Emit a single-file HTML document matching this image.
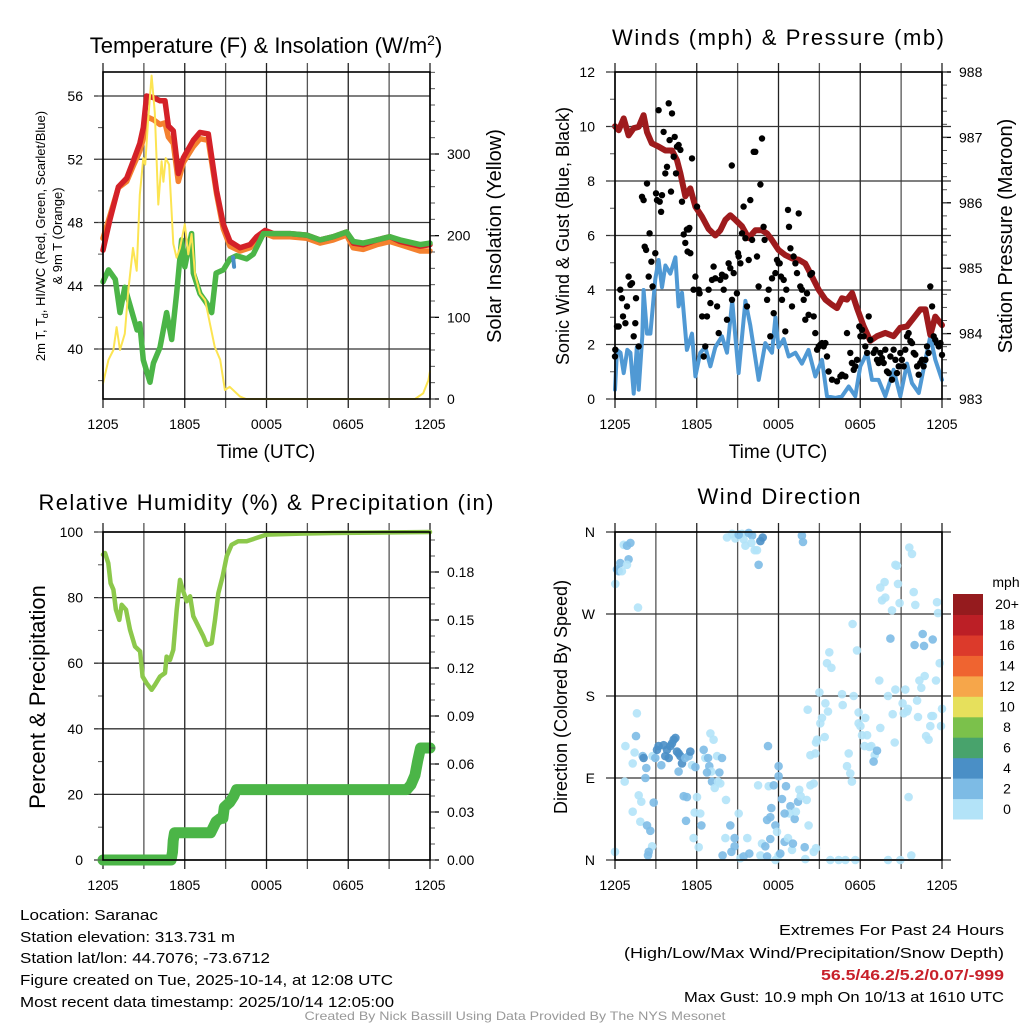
<!DOCTYPE html>
<html><head><meta charset="utf-8"><style>
html,body{margin:0;padding:0;background:#fff;}
svg{display:block;font-family:"Liberation Sans",Arial,sans-serif;}
</style></head><body>
<svg id="chart" width="1024" height="1024" viewBox="0 0 1024 1024" xmlns="http://www.w3.org/2000/svg">
<rect width="1024" height="1024" fill="#fff"/>
<g id="grids"></g>
<g id="series"></g>
<g id="axes"></g>
<g id="labels" fill="#000">
<text x="266" y="53" font-size="22" text-anchor="middle">Temperature (F) &amp; Insolation (W/m<tspan font-size="14" dy="-8">2</tspan><tspan dy="8">)</tspan></text>
<text x="778" y="45" font-size="22" text-anchor="middle" textLength="332">Winds (mph) &amp; Pressure (mb)</text>
<text x="266" y="510" font-size="22" text-anchor="middle" textLength="455">Relative Humidity (%) &amp; Precipitation (in)</text>
<text x="779" y="504" font-size="22" text-anchor="middle" textLength="163">Wind Direction</text>
<text x="266" y="458" font-size="19" text-anchor="middle">Time (UTC)</text>
<text x="778" y="458" font-size="19" text-anchor="middle">Time (UTC)</text>
<text transform="translate(45,236) rotate(-90)" font-size="13" text-anchor="middle">2m T, T<tspan font-size="9" dy="3">d</tspan><tspan dy="-3">, HI/WC (Red, Green, Scarlet/Blue)</tspan></text>
<text transform="translate(62,236) rotate(-90)" font-size="13" text-anchor="middle">&amp; 9m T (Orange)</text>
<text transform="translate(501,236) rotate(-90)" font-size="20" text-anchor="middle">Solar Insolation (Yellow)</text>
<text transform="translate(569,236) rotate(-90)" font-size="18" text-anchor="middle">Sonic Wind &amp; Gust (Blue, Black)</text>
<text transform="translate(1012,236) rotate(-90)" font-size="20" text-anchor="middle">Station Pressure (Maroon)</text>
<text transform="translate(45,697) rotate(-90)" font-size="22" text-anchor="middle">Percent &amp; Precipitation</text>
<text transform="translate(567,697) rotate(-90)" font-size="18" text-anchor="middle">Direction (Colored By Speed)</text>
<text x="1006" y="587" font-size="14" text-anchor="middle">mph</text>
<text x="20" y="920" font-size="15" textLength="138" lengthAdjust="spacingAndGlyphs">Location: Saranac</text>
<text x="20" y="942" font-size="15" textLength="215" lengthAdjust="spacingAndGlyphs">Station elevation: 313.731 m</text>
<text x="20" y="963" font-size="15" textLength="250" lengthAdjust="spacingAndGlyphs">Station lat/lon: 44.7076; -73.6712</text>
<text x="20" y="985" font-size="15" textLength="373" lengthAdjust="spacingAndGlyphs">Figure created on Tue, 2025-10-14, at 12:08 UTC</text>
<text x="20" y="1007" font-size="15" textLength="374" lengthAdjust="spacingAndGlyphs">Most recent data timestamp: 2025/10/14 12:05:00</text>
<text x="1004" y="935" font-size="15" text-anchor="end" textLength="225" lengthAdjust="spacingAndGlyphs">Extremes For Past 24 Hours</text>
<text x="1004" y="958" font-size="15" text-anchor="end" textLength="380" lengthAdjust="spacingAndGlyphs">(High/Low/Max Wind/Precipitation/Snow Depth)</text>
<text x="1004" y="980" font-size="15" font-weight="bold" fill="#c8202a" text-anchor="end" textLength="183" lengthAdjust="spacingAndGlyphs">56.5/46.2/5.2/0.07/-999</text>
<text x="1004" y="1002" font-size="15" text-anchor="end" textLength="320" lengthAdjust="spacingAndGlyphs">Max Gust: 10.9 mph On 10/13 at 1610 UTC</text>
<text x="515" y="1020" font-size="12" fill="#999" text-anchor="middle" textLength="421" lengthAdjust="spacingAndGlyphs">Created By Nick Bassill Using Data Provided By The NYS Mesonet</text>
</g>
</svg>
<script>
// ---- data ----
const timeTickHours = [0, 6, 12, 18, 24];
const timeTickLabels = ["1205", "1805", "0005", "0605", "1205"];
const tempTicks = [40, 44, 48, 52, 56];
const solarTicks = [0, 100, 200, 300];
const windTicks = [0, 2, 4, 6, 8, 10, 12];
const pressureTicks = [983, 984, 985, 986, 987, 988];
const rhTicks = [0, 20, 40, 60, 80, 100];
const precipTicks = [0, 0.03, 0.06, 0.09, 0.12, 0.15, 0.18];
const precipTickLabels = ["0.00", "0.03", "0.06", "0.09", "0.12", "0.15", "0.18"];
const dirTicks = [0, 90, 180, 270, 360];
const dirTickLabels = ["N", "E", "S", "W", "N"];
const speedBins = ["0", "2", "4", "6", "8", "10", "12", "14", "16", "18", "20+"];
const speedColors = ["#b3e3f8", "#7dbbe5", "#4a8fc6", "#48a36c", "#7bc14b", "#e6e05c", "#f6a64a", "#ef6430", "#dc3a2b", "#bc1f26", "#951b1e"];

const redHours = [0,0.5,1.13,1.74,2.23,2.7,2.96,3.2,3.7,4.18,4.55,4.8,5.16,5.53,5.9,6.63,7.12,7.73,8.34,8.83,9.32,10.06,10.79,11.28,11.9,12.5,13.72,14.95,15.93,16.9,17.88,18.37,19.1,20.1,21.06,21.8,23.27,24];
const redTemps = [46.25,48.15,50.25,50.8,51.9,53.0,54.0,56.0,55.9,55.7,55.7,54.1,53.8,51.1,52.1,53.2,53.7,53.6,50.0,47.9,46.8,46.4,46.6,47.1,47.5,47.3,47.3,47.2,46.9,47.1,47.4,46.7,46.6,46.9,47.1,46.8,46.5,46.6];
const orangeHours = [0,0.5,1.13,1.74,2.23,2.7,2.96,3.2,3.7,4.18,4.55,4.8,5.16,5.53,5.9,6.63,7.12,7.73,8.34,8.83,9.32,10.06,10.79,11.28,11.9,12.5,13.72,14.95,15.93,16.9,17.88,18.37,19.1,20.1,21.06,21.8,23.27,24];
const orangeTemps = [47.0,48.4,50.2,50.6,51.6,52.5,53.3,54.7,54.5,54.2,54.3,53.4,53.0,50.6,51.8,52.8,53.3,53.2,49.8,47.6,46.5,46.2,46.4,46.9,47.3,47.1,47.1,47.0,46.7,46.9,47.2,46.4,46.3,46.6,46.8,46.6,46.2,46.2];
const greenHours = [0,0.4,0.9,1.25,1.6,2.0,2.5,2.7,2.96,3.45,3.7,4.18,4.67,5.04,5.4,5.77,6.0,6.5,6.63,7.12,7.6,7.98,8.3,8.83,9.32,9.8,10.55,11.03,11.77,12.5,13.72,14.95,15.93,16.9,17.88,18.37,19.1,20.1,21.06,21.8,23.27,24];
const greenTemps = [44.25,45.0,44.4,42.3,43.9,42.7,41.2,41.6,39.3,37.9,39.1,40.1,42.3,40.6,43.5,46.9,45.2,47.3,44.8,43.5,42.9,42.3,44.8,45.0,45.7,45.9,45.7,46.0,47.3,47.3,47.3,47.2,46.9,47.1,47.4,46.8,46.7,46.9,47.1,46.9,46.6,46.7];
const blueHours = [9.55,9.62];
const blueTemps = [45.8,45.2];
const solarHours = [0,0.4,0.76,1.0,1.25,1.6,1.86,2.2,2.47,2.7,2.96,3.1,3.3,3.57,3.8,4.06,4.3,4.43,4.6,4.85,5.16,5.4,5.65,6.0,6.26,6.5,6.75,7.12,7.5,7.85,8.2,8.6,8.95,9.3,10.06,10.5,22.9,23.5,23.88,24];
const solarWatts = [19,48,60,88,60,80,133,185,157,250,295,287,339,396,351,238,291,266,295,287,190,173,185,214,177,202,153,129,121,92,64,48,11,15,3,0,0,7,23,34];

const pressureHours = [0,0.27,0.64,1.0,1.37,1.74,2.1,2.35,2.7,3.2,3.7,4.18,4.55,4.8,5.16,5.53,5.9,6.38,6.87,7.36,7.73,8.1,8.46,8.83,9.32,9.8,10.3,10.79,11.16,11.52,12.0,12.5,13.0,13.48,13.97,14.34,14.95,15.44,15.93,16.29,16.66,17.03,17.4,17.76,18.25,18.74,19.23,19.84,20.45,20.94,21.43,21.92,22.41,22.78,23.14,23.51,24];
const pressureMb = [987.17,987.11,987.29,987.03,987.14,987.16,987.34,987.08,986.91,986.86,986.8,986.8,986.65,986.45,986.1,986.22,985.94,985.79,985.6,985.5,985.58,985.74,985.81,985.74,985.64,985.46,985.58,985.58,985.53,985.43,985.28,985.2,985.15,985.13,985.07,984.92,984.67,984.52,984.44,984.39,984.54,984.52,984.62,984.39,984.11,983.89,983.96,984.01,983.96,984.09,984.11,984.24,984.37,984.37,983.98,984.26,984.13];
const windHours = [0,0.15,0.4,0.64,0.9,1.13,1.37,1.6,1.74,2.0,2.1,2.35,2.6,2.96,3.2,3.45,3.7,4.06,4.43,4.67,4.92,5.28,5.65,5.9,6.26,6.63,7.0,7.36,7.85,8.22,8.6,9.07,9.57,9.93,10.55,11.03,11.52,11.77,12.0,12.38,12.75,13.24,13.72,14.2,14.7,15.19,15.56,16.17,16.66,17.15,17.64,18.0,18.5,18.86,19.35,19.84,20.45,20.94,21.43,21.8,22.3,22.78,23.14,23.51,24];
const windMph = [0.34,1.8,1.7,0.95,1.8,1.7,0.2,1.9,0.34,2.3,4.0,2.4,2.4,4.4,5.1,4.1,4.9,4.6,5.2,3.4,3.9,1.8,2.4,0.83,1.7,1.9,1.2,1.9,2.3,1.7,3.6,0.95,3.6,2.7,0.7,2.05,1.7,3.0,1.9,2.2,1.56,1.7,1.3,1.8,0.83,1.44,0.1,0.04,0.1,0.46,0.1,1.2,1.7,0.7,0.7,0.1,1.07,0.1,1.3,0.58,0.22,1.44,2.3,1.44,0.7];
const gustHours = [0,0.02,0.15,0.27,0.39,0.51,0.59,0.76,0.88,1.0,1.13,1.25,1.37,1.49,1.54,1.74,1.98,2.1,2.18,2.28,2.35,2.47,2.54,2.67,2.76,2.96,3.01,3.08,3.2,3.28,3.38,3.45,3.57,3.69,3.82,3.94,4.01,4.11,4.18,4.31,4.38,4.48,4.55,4.67,4.8,4.92,5.04,5.16,5.28,5.33,5.41,5.46,5.53,5.65,5.77,5.9,6.02,6.14,6.21,6.39,6.51,6.63,6.75,6.87,7.0,7.12,7.24,7.36,7.49,7.61,7.73,7.85,7.98,8.1,8.22,8.34,8.46,8.59,8.71,8.57,8.95,9.03,9.08,9.2,9.32,9.44,9.57,9.69,9.81,9.93,10.06,10.18,10.3,10.42,10.54,10.67,10.79,10.91,10.98,11.16,11.28,11.4,11.52,11.65,11.77,11.89,12.01,12.09,12.18,12.26,12.38,12.5,12.57,12.7,12.77,12.87,12.99,13.11,13.24,13.36,13.48,13.6,13.72,13.85,13.97,14.09,14.21,14.34,14.46,14.58,14.7,14.83,14.95,15.07,15.19,15.32,15.44,15.56,15.68,15.93,16.29,16.54,16.66,16.91,17.03,17.27,17.39,17.52,17.64,17.76,17.93,18.01,18.13,18.25,18.37,18.5,18.62,18.74,18.98,19.11,19.23,19.35,19.47,19.6,19.72,19.84,19.96,20.09,20.21,20.33,20.45,20.58,20.7,20.82,20.94,21.06,21.19,21.31,21.43,21.55,21.68,21.8,21.92,22.04,22.17,22.29,22.41,22.53,22.65,22.78,22.9,23.02,23.14,23.27,23.39,23.51,23.63,23.76,23.88,24.0];
const gustMph = [1.56,1.81,2.66,2.66,4.01,3.70,3.03,2.78,3.40,4.49,4.19,4.25,2.30,2.78,3.70,1.93,7.42,7.30,5.59,5.47,7.91,4.49,6.08,5.04,4.13,5.35,7.55,7.30,10.60,7.24,6.87,7.48,9.80,8.28,8.52,10.85,9.50,7.61,10.48,8.89,9.62,8.28,9.26,9.32,9.14,7.24,6.04,5.73,6.22,5.41,6.22,6.28,5.35,8.83,4.01,4.49,7.06,4.01,3.88,3.03,1.56,1.93,3.03,4.01,3.52,4.37,4.86,4.43,3.40,2.42,4.37,4.56,4.01,4.49,2.91,4.98,4.80,3.64,4.62,8.57,3.88,5.35,5.23,4.98,6.08,7.06,5.90,3.40,5.10,7.30,5.84,9.07,9.07,5.23,4.13,7.87,9.56,6.32,5.84,3.64,4.01,2.30,4.43,3.15,4.62,5.10,4.98,4.98,4.49,3.64,4.37,2.48,4.01,6.94,6.32,5.53,3.40,5.23,4.98,4.62,6.81,4.13,4.01,3.64,2.91,3.88,3.09,4.56,4.62,3.03,2.42,1.81,1.93,1.99,2.05,1.93,2.05,1.56,1.01,0.71,0.65,0.83,0.89,0.83,2.42,1.69,1.32,1.07,1.20,1.44,2.66,2.30,2.54,2.30,1.93,1.69,3.03,2.17,1.69,1.81,1.44,1.32,1.69,1.50,1.32,1.81,1.01,0.95,1.56,0.71,1.81,1.44,0.95,1.20,1.69,1.44,1.20,1.81,2.30,2.42,2.12,2.05,1.69,1.63,1.20,0.89,1.32,1.44,1.20,1.44,1.93,1.69,4.13,3.40,2.30,2.17,2.05,1.93,2.05,1.62];

const rhHours = [0,0.15,0.39,0.56,0.76,0.95,1.2,1.37,1.69,1.98,2.35,2.72,2.91,3.2,3.57,3.82,4.18,4.55,4.67,4.92,5.16,5.41,5.65,5.85,6.14,6.39,6.63,7.0,7.36,7.61,7.98,8.22,8.46,8.78,9.08,9.44,9.93,10.55,11.28,12.0,14.46,16.9,24];
const rhPercent = [93.1,93.6,90.5,84.4,82.4,76.3,73.2,77.8,76.3,70.2,65.1,63.6,55.9,53.9,51.9,53.4,55.9,57.0,62.0,61.0,64.1,76.3,85.4,82.4,78.9,80.4,74.3,71.2,68.2,65.6,66.1,73.2,81.3,86.4,92.6,96.1,97.2,97.2,98.2,99.2,99.5,99.7,100];
const precipHours = [0,5.0,5.1,5.15,5.25,7.9,8.3,8.6,8.8,8.9,9.3,9.6,9.8,22.3,22.6,22.9,23.1,23.3,24];
const precipInches = [0,0,0.005,0.012,0.017,0.017,0.024,0.026,0.026,0.033,0.036,0.04,0.044,0.044,0.047,0.053,0.062,0.07,0.07];

const dirHours = [0.02,0.15,0.27,0.39,0.51,0.64,0.88,1.13,1.0,0.88,1.69,0,0.71,0.76,1.30,1.44,1.54,1.61,1.74,1.93,1.30,1.86,2.03,2.10,2.23,2.30,2.35,2.59,2.72,2.47,2.42,2.84,2.76,2.96,3.08,3.20,3.40,3.57,3.69,3.82,3.94,4.06,4.18,4.31,4.43,4.55,4.67,4.80,4.92,4.67,5.16,5.41,5.53,5.65,5.90,5.04,5.28,6.02,5.85,6.26,5.21,6.34,5.77,6.14,6.51,6.63,6.83,7.0,7.24,6.92,7.07,6.75,7.12,7.32,7.56,7.73,7.66,7.49,7.85,8.15,8.46,8.10,7.90,8.54,8.78,8.78,9.08,9.71,9.20,9.44,9.86,10.67,10.79,11.03,11.16,10.50,11.28,11.65,11.23,12.01,12.01,12.55,12.26,11.47,11.16,11.40,11.77,11.89,11.40,11.77,12.01,12.13,12.45,12.70,12.99,13.06,12.87,12.80,12.45,13.19,13.28,13.43,13.53,13.63,14.07,14.34,14.58,14.21,13.92,14.58,13.97,14.75,14.34,14.70,14.75,14.83,15.07,15.19,15.39,15.0,15.44,15.63,14.14,15.56,15.88,15.73,16.66,16.71,17.44,17.76,17.52,17.88,17.88,18.01,18.37,18.13,18.50,18.32,18.67,18.81,19.06,19.23,18.98,17.15,17.03,17.27,17.39,15.80,16.42,16.91,17.64,20.04,20.94,21.75,21.55,19.40,19.47,20.04,20.38,20.58,21.31,21.11,21.43,21.50,21.19,22.17,22.24,22.34,22.48,22.73,23.56,23.83,24.0,22.83,23.02,23.14,23.22,23.34,23.93,20.53,20.21,21.99,22.58,22.68,23.32,20.33,19.60,19.84,20.89,22.04,23.63,23.71,19.47,19.79,20.77,21.92,20.58,20.70,21.60,21.80,8.22,8.59,8.83,9.32,9.44,9.57,9.81,10.06,10.01,10.25,10.42,10.67,10.84,10.54,13.72,13.80,9.08];
const dirDegrees = [303,319,317,326,317,346,345,348,330,324,277,9,86,125,106,118,136,161,71,64,53,42,114,112,90,101,38,32,15,9,5,63,114,112,121,125,104,126,114,121,112,125,128,132,134,119,117,114,106,97,112,114,119,104,102,70,69,69,52,51,43,38,24,14,121,112,112,139,132,103,97,96,86,79,86,84,96,114,112,66,38,24,5,9,15,24,51,24,2,4,7,5,18,15,4,82,81,82,125,103,92,81,67,57,44,47,38,31,23,0,5,7,20,24,11,18,59,51,51,45,53,64,77,70,66,82,84,38,14,9,1,13,115,117,129,132,150,156,135,184,172,163,165,216,211,228,182,170,259,230,180,162,150,147,156,137,137,125,124,125,115,120,108,117,103,95,86,0,0,0,0,0,0,5,69,197,145,180,160,187,187,172,163,166,161,175,157,197,189,202,197,216,166,136,132,147,158,158,147,129,243,236,248,235,242,274,285,288,282,280,283,271,299,305,303,294,324,323,343,336,354,358,353,358,352,345,359,356,348,340,340,350,354,324,356,349,357];
const dirSpeed = [1,3,3,3,1,1,3,3,3,1,1,1,1,1,1,1,3,1,1,1,1,1,3,5,3,3,3,3,1,3,3,3,1,3,5,5,3,5,5,5,5,5,5,5,5,5,5,5,5,3,3,3,5,1,3,3,3,1,1,1,3,3,1,1,3,1,3,1,1,3,1,3,3,1,1,1,3,1,3,1,3,1,3,3,3,3,1,1,1,3,3,1,1,3,3,1,1,3,3,3,3,3,3,3,3,3,3,1,3,1,1,3,3,1,1,3,3,1,3,3,1,3,1,1,1,1,1,1,3,1,1,1,1,1,1,1,1,1,1,1,1,1,1,1,1,1,1,1,1,1,1,1,1,1,1,1,1,1,1,1,1,3,3,1,1,1,1,1,1,1,1,1,1,1,1,1,1,1,1,1,1,1,1,1,1,1,1,1,1,1,1,1,1,1,1,1,1,1,1,1,3,3,3,3,3,1,1,1,1,1,1,1,1,1,1,1,1,1,1,1,1,1,1,1,1,1,3,3,1,1,1,5,5,3,3,3,3,3,3,1,1,1,1];

// ---- rendering ----
const NS = "http://www.w3.org/2000/svg";
const gGrid = document.getElementById('grids');
const gSeries = document.getElementById('series');
const gAxes = document.getElementById('axes');
function lin(d0, d1, r0, r1) { return v => r0 + (v - d0) * (r1 - r0) / (d1 - d0); }
function mk(tag, attrs, parent) {
  const e = document.createElementNS(NS, tag);
  for (const k in attrs) e.setAttribute(k, attrs[k]);
  parent.appendChild(e);
  return e;
}
function line(x1, y1, x2, y2, stroke, w, parent) {
  return mk('line', { x1: x1, y1: y1, x2: x2, y2: y2, stroke: stroke, 'stroke-width': w }, parent);
}
function txt(x, y, s, size, anchor, parent) {
  const t = mk('text', { x: x, y: y, 'font-size': size, 'text-anchor': anchor }, parent);
  t.textContent = s;
  return t;
}
function pathFrom(xsArr, ysArr, xf, yf) {
  let d = '';
  for (let i = 0; i < xsArr.length; i++) d += (i ? 'L' : 'M') + xf(xsArr[i]).toFixed(1) + ' ' + yf(ysArr[i]).toFixed(1);
  return d;
}

const panels = [
  { key: 'temp', x0: 103, x1: 430, y0: 72, y1: 399 },
  { key: 'wind', x0: 615, x1: 942, y0: 72, y1: 399 },
  { key: 'rh', x0: 103, x1: 430, y0: 532, y1: 860 },
  { key: 'dir', x0: 615, x1: 942, y0: 532, y1: 860 }
];
panels.forEach(p => {
  p.x = lin(0, 24, p.x0, p.x1);
  for (let h = 0; h <= 24; h += 3) {
    const gl = line(p.x(h), p.y0 - 9, p.x(h), p.y1 + 9, h % 6 === 0 ? '#222' : '#555', 1.3, gGrid);
    
    
  }
  timeTickHours.forEach((h, i) => {
    const t = txt(p.x(h), p.y1 + 30, timeTickLabels[i], 14, 'middle', gAxes);
    
    
  });
});

function leftAxis(p, yf, ticks, labels, minorStep, lo, hi, name, extendRight) {
  ticks.forEach((v, i) => {
    const gl = line(p.x0 - 9, yf(v), extendRight ? p.x1 + 9 : p.x1, yf(v), '#333', 1.3, gGrid);
    
    
    const t = txt(p.x0 - 20, yf(v) + 5, labels ? labels[i] : String(v), 14, 'end', gAxes);
    
    
  });
  if (minorStep) for (let v = lo; v <= hi + 1e-9; v += minorStep) {
    const yy = yf(v); if (yy < p.y0 - 0.5 || yy > p.y1 + 0.5) continue;
    line(p.x0 - 5, yy, p.x0, yy, '#555', 1, gAxes);
  }
}
function rightAxis(p, yf, ticks, labels, minorStep, lo, hi, name) {
  ticks.forEach((v, i) => {
    line(p.x1, yf(v), p.x1 + 9, yf(v), '#000', 1.3, gAxes);
    const t = txt(p.x1 + 17, yf(v) + 5, labels ? labels[i] : String(v), 14, 'start', gAxes);
    
    
  });
  for (let v = lo; v <= hi + 1e-9; v += minorStep) {
    const yy = yf(v); if (yy < p.y0 - 0.5 || yy > p.y1 + 0.5) continue;
    line(p.x1, yy, p.x1 + 5, yy, '#555', 1, gAxes);
  }
}

const P1 = panels[0];
const yTemp = lin(40, 56, 349, 96);
const ySolar = lin(0, 300, 399, 154);
leftAxis(P1, yTemp, tempTicks, null, 2, 38, 57, 'temp-axis', false);
rightAxis(P1, ySolar, solarTicks, null, 20, 0, 400, 'solar-axis');
const P2 = panels[1];
const yWind = lin(0, 12, 399, 72);
const yPres = lin(983, 988, 399, 72);
leftAxis(P2, yWind, windTicks, null, 1, 0, 12, 'wind-axis', true);
rightAxis(P2, yPres, pressureTicks, null, 0.2, 983, 988, 'pressure-axis');
const P3 = panels[2];
const yRH = lin(0, 100, 860, 532);
const yPrecip = lin(0, 0.03, 860, 812);
leftAxis(P3, yRH, rhTicks, null, 10, 0, 100, 'rh-axis', false);
rightAxis(P3, yPrecip, precipTicks, precipTickLabels, 0.01, 0, 0.2, 'precip-axis');
const P4 = panels[3];
const yDir = lin(0, 360, 860, 532);
leftAxis(P4, yDir, dirTicks, dirTickLabels, 0, 0, 0, 'direction-axis', true);

panels.forEach(p => {
  const r = mk('rect', { x: p.x0, y: p.y0, width: p.x1 - p.x0, height: p.y1 - p.y0, fill: 'none', stroke: '#000', 'stroke-width': 1.6 }, gAxes);
  
  
});

function series(d, color, w, name) {
  const e = mk('path', { d: d, fill: 'none', stroke: color, 'stroke-width': w, 'stroke-linejoin': 'round', 'stroke-linecap': 'round' }, gSeries);
  
  
  return e;
}
series(pathFrom(orangeHours, orangeTemps, P1.x, yTemp), '#f4812f', 5.5, 'temp-9m-orange-line');
series(pathFrom(redHours, redTemps, P1.x, yTemp), '#d42128', 5.5, 'temp-2m-red-line');
series(pathFrom(greenHours, greenTemps, P1.x, yTemp), '#4bb547', 5.5, 'dewpoint-green-line');
series(pathFrom(blueHours, blueTemps, P1.x, yTemp), '#4a8fc6', 4, 'windchill-blue-line');
series(pathFrom(solarHours, solarWatts, P1.x, ySolar), '#fce452', 2, 'solar-yellow-line');

series(pathFrom(windHours, windMph, P2.x, yWind), '#5099d4', 4, 'wind-speed-blue-line');
series(pathFrom(pressureHours, pressureMb, P2.x, yPres), '#9e1b1d', 6, 'pressure-maroon-line');
for (let i = 0; i < gustHours.length; i++) {
  const c = mk('circle', { cx: P2.x(gustHours[i]).toFixed(1), cy: yWind(gustMph[i]).toFixed(1), r: 3.2, fill: '#000' }, gSeries);
  
  
}

series(pathFrom(rhHours, rhPercent, P3.x, yRH), '#8cc84b', 4.5, 'rh-line');
series(pathFrom(precipHours, precipInches, P3.x, yPrecip), '#4bb547', 11, 'precip-line');

for (let i = 0; i < dirHours.length; i++) {
  const bin = Math.min(10, Math.floor(dirSpeed[i] / 2));
  const c = mk('circle', { cx: P4.x(dirHours[i]).toFixed(1), cy: yDir(dirDegrees[i]).toFixed(1), r: 4.3, fill: speedColors[bin], 'fill-opacity': 0.9 }, gSeries);
  
  
}

const cbTop = 594, cbBot = 819, cbX = 953, cbW = 30;
const cbH = (cbBot - cbTop) / speedBins.length;
for (let i = 0; i < speedBins.length; i++) {
  const yy = cbBot - (i + 1) * cbH;
  const r = mk('rect', { x: cbX, y: yy.toFixed(1), width: cbW, height: (cbH + 0.5).toFixed(1), fill: speedColors[i] }, gAxes);
  
  
  const t = txt(1007, yy + cbH / 2 + 5, speedBins[i], 14, 'middle', gAxes);
  
  
}
</script>
</body></html>
